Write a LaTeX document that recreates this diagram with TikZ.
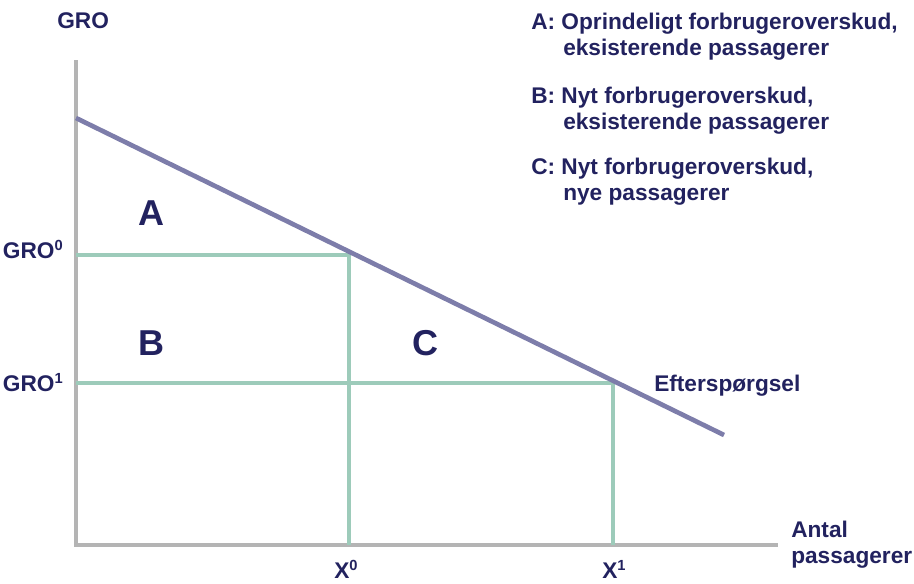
\documentclass[tikz,border=0pt]{standalone}
\usepackage{fontspec}
\setmainfont{Liberation Sans}
\definecolor{navy}{HTML}{22225F}
\definecolor{axisgray}{HTML}{B4B4B4}
\definecolor{demand}{HTML}{7D7DAA}
\definecolor{mint}{HTML}{9DCBBA}
\newcommand{\supnum}[1]{\raisebox{0.62ex}{\fontsize{11}{11}\selectfont #1}}
\begin{document}
\begin{tikzpicture}[x=0.75pt,y=-0.75pt,
  lbl/.style={text=navy,font=\bfseries\fontsize{17}{20}\selectfont,inner sep=0pt},
  big/.style={text=navy,font=\bfseries\fontsize{27}{30}\selectfont,inner sep=0pt},
  axis/.style={draw=axisgray,line width=3.3pt},
  guide/.style={draw=mint,line width=2.6pt},
  dem/.style={draw=demand,line width=3.5pt}]
\useasboundingbox (0,0) rectangle (914,583);
% axes
\coordinate (O) at (76,545);
\coordinate (ytop) at (76,60);
\coordinate (xend) at (778,545);
\draw[axis] (ytop) -- (O) -- (xend);
% guide lines
\coordinate (g0) at (76,255);
\coordinate (p0) at (349,255);
\coordinate (b0) at (349,545);
\coordinate (g1) at (76,383);
\coordinate (p1) at (613,383);
\coordinate (b1) at (613,545);
\draw[guide] (g0) -- (p0) -- (b0);
\draw[guide] (g1) -- (p1) -- (b1);
% demand
\coordinate (d0) at (76,118);
\coordinate (d1) at (724,435);
\draw[dem] (d0) -- (d1);
% labels
\node[lbl,anchor=base west] (gro) at (57,28) {GRO};
\node[lbl,anchor=base east] (gro0) at (63,258) {GRO\supnum{0}};
\node[lbl,anchor=base east] (gro1) at (63,391) {GRO\supnum{1}};
\node[lbl,anchor=base] (x0) at (346,578) {X\supnum{0}};
\node[lbl,anchor=base] (x1) at (614,578) {X\supnum{1}};
\node[lbl,anchor=base west] (eft) at (654,391) {Efterspørgsel};
\node[lbl,anchor=base west] (ant1) at (791,537) {Antal};
\node[lbl,anchor=base west] (ant2) at (791,563) {passagerer};
\node[big] (A) at (151,213) {A};
\node[big] (B) at (151,343) {B};
\node[big] (C) at (425,343) {C};
% legend
\node[lbl,anchor=base west] (la1) at (531,29) {A: Oprindeligt forbrugeroverskud,};
\node[lbl,anchor=base west] (la2) at (563,55) {eksisterende passagerer};
\node[lbl,anchor=base west] (lb1) at (531,103) {B: Nyt forbrugeroverskud,};
\node[lbl,anchor=base west] (lb2) at (563,129) {eksisterende passagerer};
\node[lbl,anchor=base west] (lc1) at (531,174) {C: Nyt forbrugeroverskud,};
\node[lbl,anchor=base west] (lc2) at (563,200) {nye passagerer};
\end{tikzpicture}
\end{document}
